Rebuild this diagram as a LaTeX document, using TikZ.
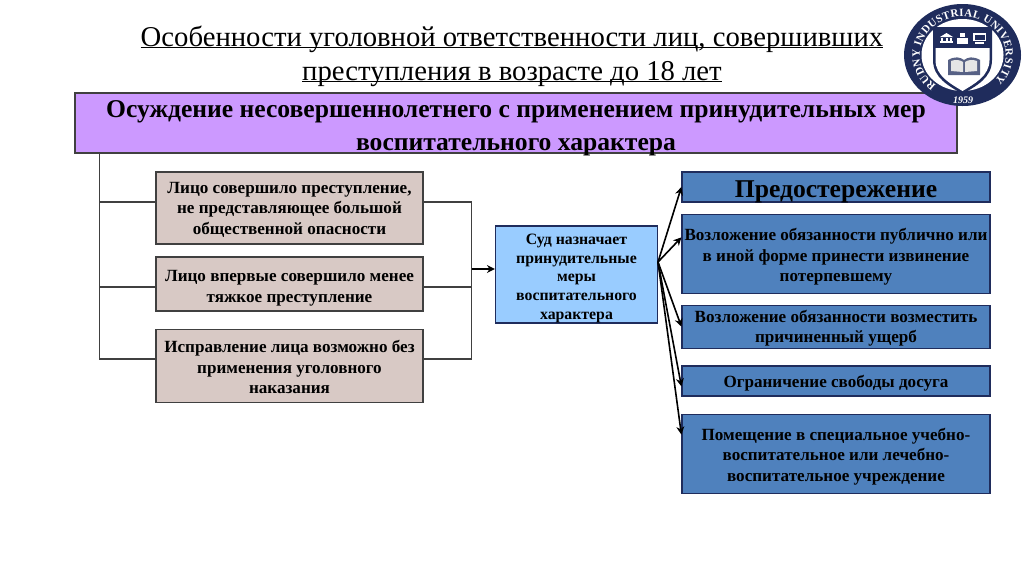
\documentclass[tikz,border=0pt]{standalone}
\usepackage{fontspec}
\setmainfont{Liberation Serif}
\usetikzlibrary{arrows.meta,decorations.text}
\definecolor{purplebox}{HTML}{CC99FF}
\definecolor{greybox}{HTML}{D8C9C5}
\definecolor{lightblue}{HTML}{99CCFF}
\definecolor{steelbox}{HTML}{4F81BD}
\definecolor{navy}{HTML}{1F2C5C}
\newcommand{\titleline}[1]{\underline{\smash{#1}}}
\begin{document}
\begin{tikzpicture}[
  x=1pt, y=-1pt,
  box/.style={draw=black!75, line width=1.2pt, align=center, font=\fontsize{17.1}{20.5}\selectfont\bfseries, inner sep=0pt, text depth=0pt},
  cause/.style={box, fill=greybox, minimum width=267pt},
  measure/.style={box, fill=steelbox, draw=navy, minimum width=308pt},
  link/.style={draw=black!75, line width=1.3pt},
  feed/.style={draw=black, line width=1.6pt, ->},
  >={Stealth[length=8pt,width=8pt]}
]
\useasboundingbox (0,0) rectangle (1024,574);
% nodes
\node[font=\fontsize{28.7}{34}\selectfont, align=center] (title) at (512,64) {\titleline{Особенности уголовной ответственности лиц, совершивших}\\\titleline{преступления в возрасте до 18 лет}};
\node[box, fill=purplebox, minimum width=882pt, minimum height=60pt, font=\fontsize{25.6}{33}\selectfont\bfseries, text height=55pt] (head) at (516,123) {Осуждение несовершеннолетнего с применением принудительных мер\\воспитательного характера};
\node[cause, minimum height=72pt] (c1) at (289.5,208) {Лицо совершило преступление,\\не представляющее большой\\общественной опасности};
\node[cause, minimum height=54pt, text height=36.5pt] (c2) at (289.5,284) {Лицо впервые совершило менее\\тяжкое преступление};
\node[cause, minimum height=73pt, text height=55pt] (c3) at (289.5,366) {Исправление лица возможно без\\применения уголовного\\наказания};
\node[box, fill=lightblue, draw=navy, minimum width=162pt, minimum height=97pt, font=\fontsize{15.8}{18.8}\selectfont\bfseries, text height=90pt] (court) at (576.5,274.5) {Суд назначает\\принудительные\\меры\\воспитательного\\характера};
\node[measure, minimum height=30pt, font=\fontsize{25.6}{28}\selectfont\bfseries, text height=20pt] (warn) at (836,187) {Предостережение};
\node[measure, minimum height=79pt, text height=56pt] (duty) at (836,253.6) {Возложение обязанности публично или\\в иной форме принести извинение\\потерпевшему};
\node[measure, minimum height=43pt] (repair) at (836,326.6) {Возложение обязанности возместить\\причиненный ущерб};
\node[measure, minimum height=30pt, text height=13pt] (leisure) at (836,381) {Ограничение свободы досуга};
\node[measure, minimum height=79pt, text height=55pt] (place) at (836,453.6) {Помещение в специальное учебно-\\воспитательное или лечебно-\\воспитательное учреждение};
% rails
\coordinate (top) at (99.5,153);
\coordinate (low) at (99.5,359);
\coordinate (mid) at (99.5,287);
\coordinate (r1) at (471.5,202);
\coordinate (r2) at (471.5,287);
\coordinate (r3) at (471.5,359);
\coordinate (rm) at (471.5,269);
\coordinate (fan) at (658,262);
\draw[link] (top) -- (low) -- (c3.west |- low);
\draw[link] (top |- r1) -- (c1.west |- r1);
\draw[link] (mid) -- (c2.west |- mid);
\draw[link] (c1.east |- r1) -- (r1) -- (r3) -- (c3.east |- r3);
\draw[link] (c2.east |- r2) -- (r2);
\draw[feed] (rm) -- (court.west |- rm);
\draw[feed] (fan) -- (warn.west);
\draw[feed] (fan) -- (duty.174.6);
\draw[feed] (fan) -- (repair.west);
\draw[feed] (fan) -- (leisure.182.6);
\draw[feed] (fan) -- (place.173.9);
% logo
\fill[navy] (962.5,55) ellipse (58.5 and 51);
\fill[white] (962.5,55) ellipse (41 and 36);
\fill[navy] (933,27) -- (992,27) -- (992,60) .. controls (992,78) and (976,86) .. (962.5,94) .. controls (949,86) and (933,78) .. (933,60) -- cycle;
\fill[white] (935.5,48) -- (989.5,48) -- (989.5,60) .. controls (989.5,76) and (974,84) .. (962.5,91) .. controls (951,84) and (935.5,76) .. (935.5,60) -- cycle;
\fill[white] (940,37) -- (946.5,33) -- (953,37) -- cycle;
\fill[white] (940,41) rectangle (953,43);
\foreach \colx in {941,945.5,950} \fill[white] (\colx,37.5) rectangle +(2,3.5);
\fill[white] (957,38) rectangle (968,44);
\fill[white] (960,33) rectangle (965,37);
\fill[white] (973,33) rectangle (986,41);
\fill[navy] (974.5,34.5) rectangle (984.5,39.5);
\fill[white] (975,42) rectangle (984,44);
\fill[navy!75] (948,75) -- (948,60) .. controls (955,56) and (960,57) .. (964,60) .. controls (968,57) and (973,56) .. (980,60) -- (980,75) -- cycle;
\fill[black!10] (951,71) -- (951,61) .. controls (956,59) and (960,60) .. (963,62) -- (963,72) -- cycle;
\fill[black!10] (977,71) -- (977,61) .. controls (972,59) and (968,60) .. (965,62) -- (965,72) -- cycle;
\path[decorate, decoration={text along path, text align={fit to path}, text={|\fontsize{11}{12}\selectfont\bfseries\color{white}|RUDNY INDUSTRIAL UNIVERSITY}}] (936.2,85.5) arc[start angle=128, end angle=402, x radius=43, y radius=38.5];
\node[font=\fontsize{10}{11}\selectfont\itshape\bfseries, text=white] (year) at (963,100) {1959};
\end{tikzpicture}
\end{document}
